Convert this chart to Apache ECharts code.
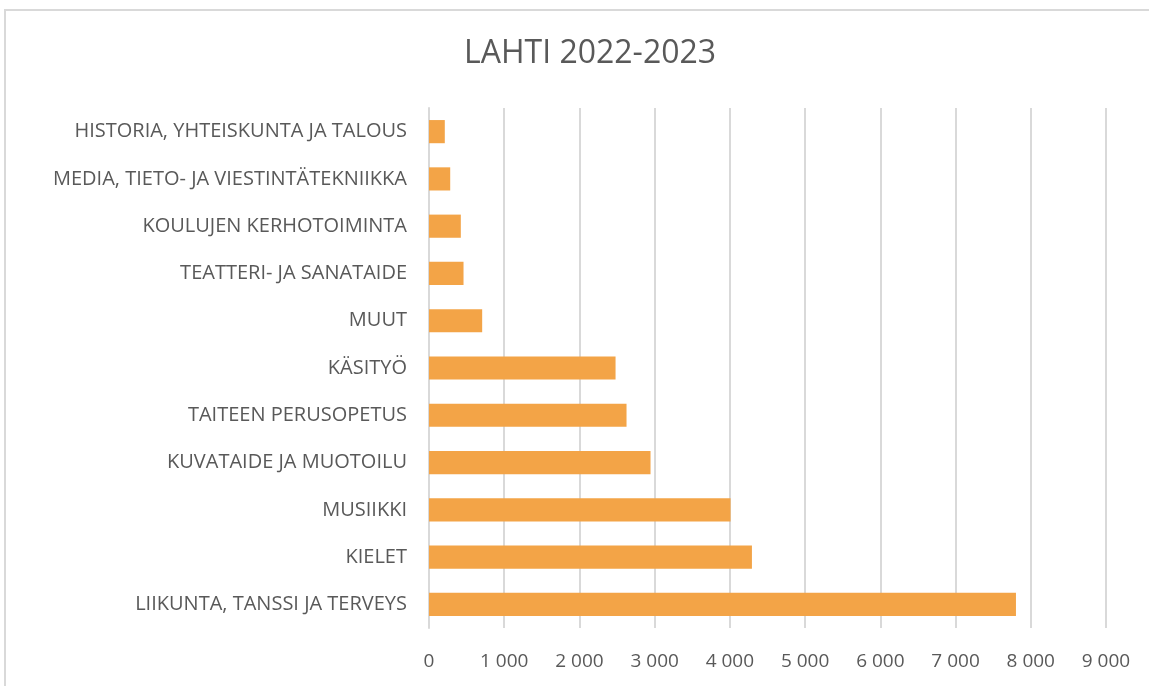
<!DOCTYPE html>
<html>
<head>
<meta charset="utf-8">
<script src="https://cdn.jsdelivr.net/npm/echarts@6/dist/echarts.min.js"></script>
<style>
  html, body { margin: 0; padding: 0; background: #fff; }
  .frame {
    position: absolute; left: 4px; top: 9px; width: 1200px; height: 720px;
    border: 2px solid #d9d9d9; box-sizing: border-box;
  }
  #chart { position: absolute; left: 0; top: 0; width: 1149px; height: 686px; }
</style>
</head>
<body>
<div class="frame"></div>
<div id="chart"></div>
<script>
// kategoriat alhaalta ylös
var categories = [
  'LIIKUNTA, TANSSI JA TERVEYS',
  'KIELET',
  'MUSIIKKI',
  'KUVATAIDE JA MUOTOILU',
  'TAITEEN PERUSOPETUS',
  'KÄSITYÖ',
  'MUUT',
  'TEATTERI- JA SANATAIDE',
  'KOULUJEN KERHOTOIMINTA',
  'MEDIA, TIETO- JA VIESTINTÄTEKNIIKKA',
  'HISTORIA, YHTEISKUNTA JA TALOUS'
];
var values = [7803, 4293, 4009, 2945, 2626, 2480, 707, 459, 423, 282, 210];
var xTicks = [0, 1000, 2000, 3000, 4000, 5000, 6000, 7000, 8000, 9000];

var font = "'Open Sans', sans-serif";
var myChart = echarts.init(document.getElementById('chart'));
var option = {
  animation: false,
  title: {
    text: 'LAHTI 2022-2023',
    left: 459,
    top: 33,
    textStyle: { color: '#595959', fontFamily: font, fontWeight: 'normal', fontSize: 32 }
  },
  grid: { left: 429, right: 43, top: 108, bottom: 58 },
  xAxis: {
    type: 'value',
    min: xTicks[0],
    max: xTicks[xTicks.length - 1],
    interval: 1000,
    axisLine: { show: false },
    axisTick: { show: false },
    splitLine: { lineStyle: { color: '#d9d9d9', width: 2 } },
    axisLabel: {
      color: '#595959', fontFamily: font, fontSize: 19, margin: 24,
      formatter: function (v) { return String(v).replace(/\B(?=(\d{3})+(?!\d))/g, ' '); }
    }
  },
  yAxis: {
    type: 'category',
    data: categories,
    axisLine: { show: true, lineStyle: { color: '#d9d9d9', width: 2 } },
    axisTick: { show: false },
    axisLabel: { color: '#595959', fontFamily: font, fontSize: 20, margin: 22 }
  },
  series: [{
    type: 'bar',
    data: values,
    barCategoryGap: '51%',
    itemStyle: { color: '#F3A447' }
  }]
};
myChart.setOption(option);
</script>
</body>
</html>
